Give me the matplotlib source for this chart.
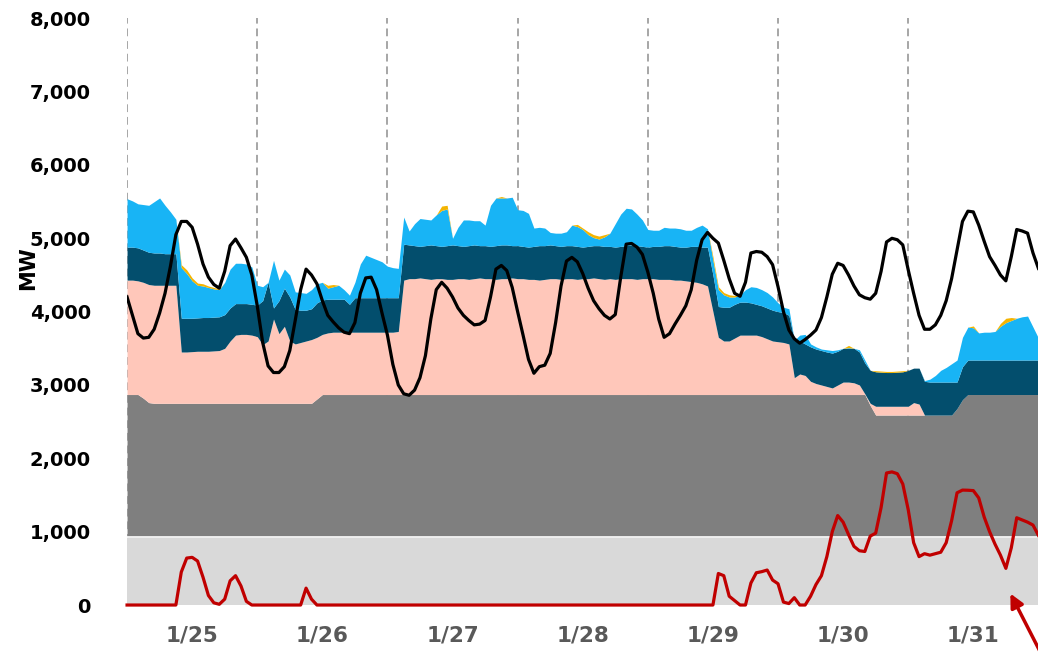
import numpy as np
import matplotlib

matplotlib.use("Agg")
import matplotlib.pyplot as plt
from matplotlib.ticker import FuncFormatter

# hourly values, 1/25 00:00 .. 1/31 24:00 (MW)
hours = np.arange(169)

day_labels = ["1/25", "1/26", "1/27", "1/28", "1/29", "1/30", "1/31"]

base_floor = 925  # light grey band

# tops of each stacked band (cumulative MW)
grey_top = [
    2870, 2870, 2870, 2820, 2760, 2750, 2750, 2750, 2750, 2750, 2750, 2750,
    2750, 2750, 2750, 2750, 2750, 2750, 2750, 2750, 2750, 2750, 2750, 2750,
    2750, 2750, 2750, 2750, 2750, 2750, 2750, 2750, 2750, 2750, 2750, 2810,
    2870, 2870, 2870, 2870, 2870, 2870, 2870, 2870, 2870, 2870, 2870, 2870,
    2870, 2870, 2870, 2870, 2870, 2870, 2870, 2870, 2870, 2870, 2870, 2870,
    2870, 2870, 2870, 2870, 2870, 2870, 2870, 2870, 2870, 2870, 2870, 2870,
    2870, 2870, 2870, 2870, 2870, 2870, 2870, 2870, 2870, 2870, 2870, 2870,
    2870, 2870, 2870, 2870, 2870, 2870, 2870, 2870, 2870, 2870, 2870, 2870,
    2870, 2870, 2870, 2870, 2870, 2870, 2870, 2870, 2870, 2870, 2870, 2870,
    2870, 2870, 2870, 2870, 2870, 2870, 2870, 2870, 2870, 2870, 2870, 2870,
    2870, 2870, 2870, 2870, 2870, 2870, 2870, 2870, 2870, 2870, 2870, 2870,
    2870, 2870, 2870, 2870, 2870, 2720, 2590, 2590, 2590, 2590, 2590, 2590,
    2590, 2590, 2590, 2590, 2590, 2590, 2590, 2590, 2590, 2680, 2800, 2870,
    2870, 2870, 2870, 2870, 2870, 2870, 2870, 2870, 2870, 2870, 2870, 2870,
    2870,
]

pink_top = [
    4430, 4430, 4420, 4400, 4370, 4360, 4360, 4360, 4360, 4360, 3450, 3450,
    3455, 3460, 3460, 3460, 3465, 3470, 3500, 3600, 3680, 3690, 3690, 3680,
    3660, 3550, 3600, 3900, 3700, 3800, 3600, 3560, 3580, 3600, 3620, 3650,
    3690, 3710, 3720, 3720, 3720, 3720, 3720, 3720, 3720, 3720, 3720, 3720,
    3720, 3720, 3730, 4430, 4450, 4450, 4460, 4450, 4440, 4450, 4450, 4440,
    4440, 4450, 4450, 4440, 4450, 4460, 4450, 4450, 4440, 4450, 4450, 4460,
    4450, 4450, 4440, 4440, 4430, 4440, 4450, 4450, 4440, 4450, 4450, 4440,
    4450, 4450, 4460, 4450, 4440, 4450, 4440, 4450, 4450, 4450, 4440, 4450,
    4450, 4450, 4440, 4440, 4440, 4430, 4430, 4420, 4410, 4400, 4380, 4350,
    4000, 3650, 3600, 3600, 3640, 3680, 3680, 3680, 3680, 3660, 3630, 3600,
    3590, 3580, 3560, 3100, 3150, 3130, 3050, 3020, 3000, 2980, 2960, 3000,
    3040, 3040, 3030, 3000, 2880, 2750, 2710, 2710, 2710, 2710, 2710, 2710,
    2710, 2760, 2740, 2590, 2590, 2590, 2590, 2590, 2590, 2680, 2800, 2870,
    2870, 2870, 2870, 2870, 2870, 2870, 2870, 2870, 2870, 2870, 2870, 2870,
    2870,
]

teal_top = [
    4880, 4880, 4870, 4840, 4810, 4800, 4800, 4790, 4790, 4790, 3910, 3910,
    3910, 3915, 3920, 3920, 3925, 3930, 3960, 4050, 4110, 4110, 4110, 4100,
    4090, 4150, 4400, 4050, 4150, 4320, 4200, 4030, 4020, 4020, 4040, 4120,
    4160, 4170, 4170, 4170, 4170, 4100, 4190, 4190, 4190, 4190, 4190, 4190,
    4190, 4190, 4190, 4920, 4910, 4900, 4890, 4900, 4910, 4900, 4890, 4900,
    4910, 4900, 4890, 4900, 4910, 4900, 4900, 4890, 4900, 4910, 4910, 4900,
    4900, 4890, 4880, 4890, 4900, 4900, 4910, 4900, 4890, 4900, 4900, 4890,
    4880, 4890, 4900, 4900, 4890, 4890, 4880, 4890, 4900, 4910, 4900, 4890,
    4880, 4890, 4890, 4900, 4900, 4890, 4880, 4880, 4890, 4890, 4880, 4880,
    4500, 4070, 4060, 4060, 4100, 4130, 4130, 4120, 4100, 4080, 4050, 4020,
    4000, 3990, 3950, 3610, 3600, 3560, 3520, 3490, 3470, 3450, 3435, 3460,
    3500, 3500, 3500, 3450, 3300, 3200, 3180, 3175, 3170, 3170, 3175, 3180,
    3200, 3230, 3230, 3050, 3040, 3040, 3040, 3040, 3040, 3040, 3250, 3340,
    3340, 3340, 3340, 3340, 3340, 3340, 3340, 3340, 3340, 3340, 3340, 3340,
    3340,
]

cyan_top = [
    5540, 5510, 5470, 5460, 5450, 5500, 5550, 5450, 5360, 5260, 4600, 4520,
    4420, 4360, 4350, 4330, 4310, 4300, 4400, 4580, 4660, 4660, 4650, 4610,
    4360, 4340, 4400, 4700, 4430, 4580, 4500, 4270, 4260, 4250, 4300, 4380,
    4400, 4320, 4340, 4360, 4300, 4225, 4400, 4650, 4770, 4740, 4710, 4680,
    4620, 4600, 4590, 5290, 5100, 5200, 5270, 5260, 5250, 5320, 5380, 5400,
    5000, 5150, 5250, 5250, 5240, 5240, 5180, 5450, 5550, 5550, 5550, 5560,
    5390, 5380, 5340, 5140, 5150, 5140, 5080, 5070, 5070, 5090, 5180, 5160,
    5120, 5050, 5010, 4990, 5020, 5070, 5200, 5330, 5410, 5400, 5330, 5250,
    5120, 5110, 5110, 5150, 5140, 5140, 5130, 5110, 5110, 5150, 5180, 5130,
    4700, 4300, 4230, 4200, 4200, 4230, 4300, 4340, 4330, 4300, 4260, 4200,
    4120, 4060, 4040, 3600, 3680, 3690, 3560, 3520, 3490, 3480, 3470, 3480,
    3500, 3510, 3500, 3480, 3340, 3200, 3180, 3175, 3170, 3170, 3175, 3180,
    3200, 3230, 3230, 3060, 3080, 3130, 3200, 3240, 3290, 3340, 3650, 3790,
    3780, 3710, 3720, 3720, 3730, 3800, 3850, 3880, 3910, 3930, 3940, 3790,
    3640,
]

# thin orange band sitting on the cyan band (MW)
orange = [
    0, 0, 0, 0, 0, 0, 0, 0, 0, 0, 40, 50,
    40, 30, 30, 20, 20, 10, 0, 0, 0, 0, 0, 0,
    0, 0, 0, 0, 0, 0, 0, 0, 0, 0, 0, 0,
    0, 40, 30, 0, 0, 0, 0, 0, 0, 0, 0, 0,
    0, 0, 0, 0, 0, 0, 0, 0, 0, 0, 60, 50,
    0, 0, 0, 0, 0, 0, 0, 0, 0, 20, 0, 0,
    0, 0, 0, 0, 0, 0, 0, 0, 0, 0, 0, 30,
    20, 40, 40, 40, 30, 0, 0, 0, 0, 0, 0, 0,
    0, 0, 0, 0, 0, 0, 0, 0, 0, 0, 0, 0,
    50, 40, 30, 30, 20, 0, 0, 0, 0, 0, 0, 0,
    0, 0, 0, 0, 0, 0, 0, 0, 0, 0, 0, 0,
    0, 30, 0, 0, 0, 0, 15, 15, 15, 15, 15, 15,
    0, 0, 0, 0, 0, 0, 0, 0, 0, 0, 0, 0,
    25, 0, 0, 0, 0, 40, 60, 40, 0, 0, 0, 0,
    0,
]

load = [
    4200, 3950, 3700, 3640, 3650, 3760, 3980, 4250, 4620, 5050, 5230, 5230,
    5150, 4920, 4650, 4470, 4370, 4320, 4550, 4900, 4990, 4870, 4740, 4500,
    4080, 3580, 3260, 3170, 3170, 3250, 3470, 3880, 4300, 4580, 4500, 4380,
    4150, 3950, 3860, 3780, 3720, 3700, 3850, 4250, 4460, 4470, 4300, 3980,
    3680, 3280, 3000, 2880, 2860, 2930, 3100, 3400, 3900, 4300, 4400, 4320,
    4200, 4050, 3950, 3880, 3820, 3830, 3880, 4200, 4580, 4630, 4560, 4330,
    4000, 3680, 3350, 3160, 3250, 3270, 3430, 3850, 4350, 4690, 4740, 4680,
    4520, 4320, 4150, 4040, 3950, 3900, 3960, 4470, 4920, 4930, 4880, 4780,
    4540, 4250, 3900, 3650, 3700, 3830, 3950, 4080, 4300, 4700, 4980, 5080,
    5000, 4935, 4700, 4450, 4250, 4210, 4400, 4800, 4820, 4810, 4750, 4640,
    4340, 4000, 3750, 3630, 3570, 3620, 3680, 3750, 3920, 4200, 4510, 4660,
    4630, 4500, 4350, 4230, 4190, 4170, 4250, 4550, 4950, 5000, 4980, 4910,
    4570, 4250, 3950, 3760, 3760, 3820, 3950, 4150, 4450, 4840, 5230, 5370,
    5360, 5180, 4960, 4750, 4630, 4500, 4420, 4750, 5120, 5100, 5070, 4800,
    4590,
]

red_line = [
    0, 0, 0, 0, 0, 0, 0, 0, 0, 0, 450, 640,
    650, 600, 380, 130, 30, 10, 80, 330, 400, 260, 50, 0,
    0, 0, 0, 0, 0, 0, 0, 0, 0, 230, 80, 0,
    0, 0, 0, 0, 0, 0, 0, 0, 0, 0, 0, 0,
    0, 0, 0, 0, 0, 0, 0, 0, 0, 0, 0, 0,
    0, 0, 0, 0, 0, 0, 0, 0, 0, 0, 0, 0,
    0, 0, 0, 0, 0, 0, 0, 0, 0, 0, 0, 0,
    0, 0, 0, 0, 0, 0, 0, 0, 0, 0, 0, 0,
    0, 0, 0, 0, 0, 0, 0, 0, 0, 0, 0, 0,
    0, 430, 400, 120, 60, 0, 0, 300, 440, 455, 477, 340,
    290, 40, 20, 100, 0, 0, 120, 280, 400, 660, 1000, 1220,
    1130, 960, 800, 740, 730, 940, 980, 1330, 1800, 1815, 1790, 1650,
    1300, 850, 660, 700, 680, 700, 720, 850, 1150, 1530, 1567, 1565,
    1560, 1460, 1200, 1000, 830, 680, 500, 780, 1190, 1160, 1130, 1090,
    950,
]

# ---------------------------------------------------------------- stack
g = np.array(grey_top, float)
p = np.maximum(np.array(pink_top, float), g)
t = np.maximum(np.array(teal_top, float), p)
c = np.maximum(np.array(cyan_top, float), t)
o = c + np.array(orange, float)
floor = np.full(len(hours), base_floor, float)

fig = plt.figure(figsize=(10.38, 6.6), dpi=100)
ax = fig.add_axes([0.1224, 0.0833, 0.878, 0.889])

for d in range(0, 168, 24):
    ax.axvline(d, color="#A6A6A6", lw=1.4, ls=(0, (4, 2.5)), zorder=0)

ax.fill_between(hours, 0, floor, color="#D9D9D9", lw=0, zorder=1)
ax.fill_between(hours, floor, g, color="#7F7F7F", lw=0, zorder=1)
ax.fill_between(hours, g, p, color="#FFC7BA", lw=0, zorder=1)
ax.fill_between(hours, p, t, color="#034E6D", lw=0, zorder=1)
ax.fill_between(hours, t, c, color="#18B4F5", lw=0, zorder=1)
ax.fill_between(hours, c, o, color="#F4B400", lw=0, zorder=1)
ax.plot(hours, floor, color="white", lw=1.2, zorder=2)

ax.plot(hours, load, color="black", lw=2.3, zorder=3)
ax.plot(hours, red_line, color="#C00000", lw=2.3, zorder=3, clip_on=False)

ax.annotate("", xy=(162.6, 190), xytext=(169.8, -850),
            arrowprops=dict(arrowstyle="-|>,head_length=0.8,head_width=0.4",
                            color="#C00000", lw=2.5),
            annotation_clip=False)

ax.set_xlim(0, 168)
ax.set_ylim(0, 8000)
ax.set_yticks(range(0, 8001, 1000))
ax.yaxis.set_major_formatter(FuncFormatter(lambda v, _: f"{int(v):,}"))
ax.set_xticks(np.arange(12, 168, 24))
ax.set_xticklabels(day_labels)
ax.tick_params(axis="y", length=0, pad=26, labelsize=14, labelcolor="black")
ax.tick_params(axis="x", length=0, pad=15, labelsize=15.5, labelcolor="#595959")
for lab in ax.get_xticklabels() + ax.get_yticklabels():
    lab.set_fontweight("bold")
for s in ax.spines.values():
    s.set_visible(False)

ax.set_ylabel("MW", fontsize=15, fontweight="bold")
ax.yaxis.set_label_coords(-0.098, 0.575)

fig.savefig("out.png", dpi=100)
